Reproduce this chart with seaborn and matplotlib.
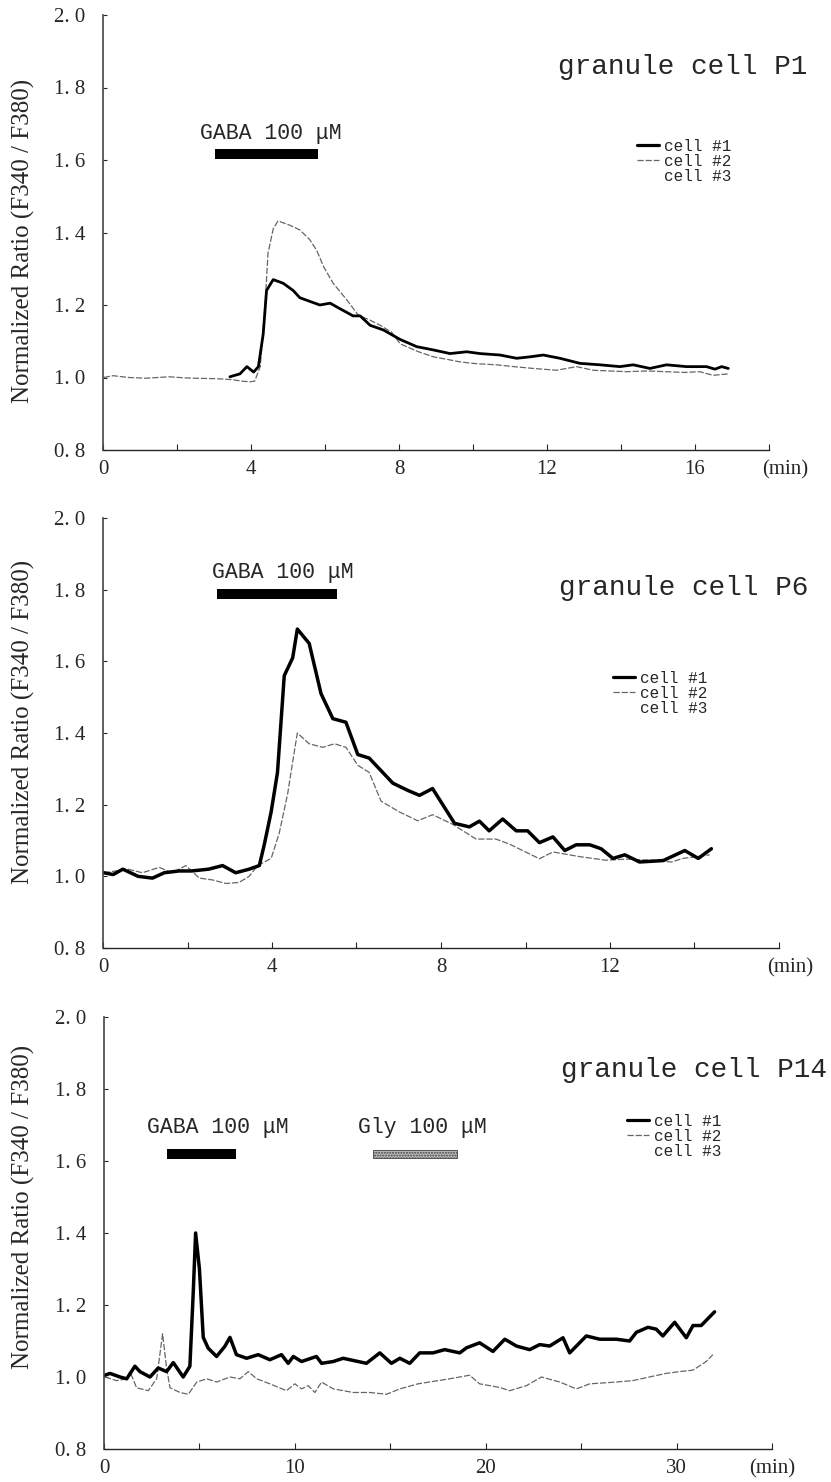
import matplotlib
matplotlib.use("Agg")
import matplotlib.pyplot as plt
from matplotlib.lines import Line2D
import seaborn as sns
import pandas as pd

sns.set_style("ticks")
plt.rcParams["font.family"] = ["Liberation Serif", "DejaVu Serif"]
MONO = ["Liberation Mono", "DejaVu Sans Mono"]

### Data (time in min, normalized F340/F380 ratio)
# granule cell P1
p1_c1_t = [3.43, 3.7, 3.89, 4.07, 4.2, 4.33, 4.42, 4.6, 4.87, 5.14, 5.32, 5.59, 5.86, 6.14, 6.4,
           6.76, 6.95, 7.22, 7.58, 8.03, 8.48, 8.93, 9.38, 9.83, 10.19, 10.73, 11.18, 11.54, 11.9,
           12.35, 12.89, 13.43, 13.97, 14.33, 14.78, 15.23, 15.77, 16.31, 16.54, 16.72, 16.9]
p1_c1_r = [1.002, 1.01, 1.03, 1.015, 1.03, 1.12, 1.24, 1.27, 1.26, 1.24, 1.22, 1.21, 1.2, 1.205,
           1.19, 1.17, 1.17, 1.144, 1.131, 1.105, 1.085, 1.076, 1.066, 1.071, 1.066, 1.062, 1.053,
           1.057, 1.062, 1.053, 1.039, 1.035, 1.03, 1.035, 1.025, 1.035, 1.03, 1.03, 1.023, 1.03, 1.025]
p1_c2_t = [0.02, 0.27, 0.7, 1.17, 1.79, 2.2, 2.5, 2.9, 3.2, 3.5, 3.75, 3.96, 4.1, 4.25, 4.38, 4.46,
           4.6, 4.73, 5.05, 5.32, 5.59, 5.78, 5.96, 6.22, 6.59, 6.9, 7.2, 7.49, 7.8, 8.03, 8.5, 8.93,
           9.3, 9.65, 10.1, 10.64, 11.1, 11.63, 12.26, 12.8, 13.25, 13.7, 14.15, 14.7, 15.23, 15.7,
           16.13, 16.49, 16.9]
p1_c2_r = [1.0, 1.005, 1.0, 0.998, 1.002, 0.999, 0.998, 0.997, 0.996, 0.994, 0.99, 0.988, 0.99,
           1.03, 1.2, 1.343, 1.41, 1.432, 1.42, 1.407, 1.38, 1.35, 1.306, 1.26, 1.214, 1.172, 1.159,
           1.144, 1.125, 1.093, 1.072, 1.057, 1.05, 1.043, 1.038, 1.035, 1.03, 1.025, 1.02, 1.03,
           1.02, 1.018, 1.016, 1.018, 1.016, 1.014, 1.016, 1.006, 1.01]

# granule cell P6
p2_c1_t = [0.02, 0.24, 0.47, 0.83, 1.17, 1.45, 1.8, 2.1, 2.5, 2.83, 3.14, 3.46, 3.7, 3.82, 3.98,
           4.13, 4.29, 4.49, 4.6, 4.88, 5.16, 5.44, 5.75, 6.03, 6.3, 6.86, 7.21, 7.49, 7.8, 8.32,
           8.67, 8.91, 9.14, 9.46, 9.78, 10.05, 10.33, 10.65, 10.93, 11.2, 11.52, 11.79, 12.07,
           12.35, 12.7, 13.26, 13.77, 14.09, 14.4]
p2_c1_r = [1.01, 1.005, 1.02, 1.0, 0.995, 1.01, 1.015, 1.015, 1.02, 1.03, 1.01, 1.02, 1.03, 1.09,
           1.18, 1.29, 1.56, 1.61, 1.69, 1.65, 1.51, 1.44, 1.43, 1.34, 1.33, 1.26, 1.24, 1.226,
           1.245, 1.148, 1.138, 1.154, 1.127, 1.16, 1.127, 1.127, 1.094, 1.11, 1.072, 1.088, 1.088,
           1.077, 1.05, 1.06, 1.04, 1.044, 1.072, 1.05, 1.077]
p2_c2_t = [0.02, 0.59, 0.93, 1.33, 1.64, 1.96, 2.28, 2.59, 2.91, 3.22, 3.46, 3.66, 3.98, 4.17,
           4.37, 4.49, 4.6, 4.88, 5.2, 5.48, 5.75, 6.03, 6.3, 6.58, 7.01, 7.45, 7.8, 8.28, 8.83,
           9.3, 9.62, 10.33, 10.65, 11.28, 11.9, 12.4, 13.0, 13.45, 13.73, 14.36]
p2_c2_r = [1.01, 1.02, 1.01, 1.025, 1.01, 1.03, 0.995, 0.99, 0.98, 0.983, 1.0, 1.03, 1.05, 1.12,
           1.23, 1.32, 1.40, 1.37, 1.36, 1.37, 1.36, 1.31, 1.29, 1.21, 1.18, 1.155, 1.172, 1.145,
           1.104, 1.104, 1.09, 1.049, 1.068, 1.055, 1.045, 1.048, 1.045, 1.04, 1.05, 1.06]

# granule cell P14
p3_c1_t = [0.05, 0.31, 0.84, 1.19, 1.62, 1.88, 2.41, 2.84, 3.28, 3.63, 4.15, 4.5, 4.68, 4.8, 5.0,
           5.2, 5.46, 5.9, 6.33, 6.6, 6.94, 7.47, 8.08, 8.69, 9.3, 9.65, 9.92, 10.35, 11.13, 11.4,
           12.01, 12.53, 13.75, 14.45, 15.06, 15.5, 16.02, 16.54, 17.24, 17.85, 18.64, 18.99,
           19.68, 20.38, 21.0, 21.61, 22.3, 22.83, 23.35, 24.05, 24.4, 25.27, 25.97, 26.84, 27.54,
           27.89, 28.5, 28.93, 29.28, 29.9, 30.51, 30.86, 31.29, 31.99]
p3_c1_r = [1.005, 1.01, 1.0, 0.995, 1.03, 1.015, 1.0, 1.025, 1.015, 1.04, 1.0, 1.03, 1.24, 1.40,
           1.30, 1.11, 1.08, 1.057, 1.085, 1.11, 1.062, 1.052, 1.062, 1.048, 1.062, 1.038, 1.057,
           1.043, 1.057, 1.038, 1.043, 1.052, 1.038, 1.067, 1.038, 1.052, 1.038, 1.067, 1.067,
           1.076, 1.067, 1.081, 1.095, 1.071, 1.105, 1.086, 1.076, 1.09, 1.086, 1.109, 1.067,
           1.114, 1.105, 1.105, 1.1, 1.124, 1.138, 1.133, 1.114, 1.152, 1.109, 1.143, 1.143, 1.181]
p3_c2_t = [0.05, 0.66, 1.19, 1.36, 1.71, 2.32, 2.76, 3.07, 3.28, 3.46, 3.98, 4.42, 4.86, 5.38,
           5.9, 6.6, 7.12, 7.56, 8.0, 8.69, 9.56, 10.0, 10.35, 10.7, 11.05, 11.4, 12.01, 13.06,
           13.93, 14.8, 15.5, 16.45, 18.11, 19.16, 19.68, 20.73, 21.26, 22.13, 22.92, 23.88,
           24.75, 25.45, 26.84, 27.71, 28.58, 29.45, 30.15, 30.86, 31.55, 31.9]
p3_c2_r = [1.0, 0.99, 0.995, 1.015, 0.97, 0.962, 0.995, 1.12, 1.024, 0.97, 0.957, 0.952, 0.986,
           0.995, 0.986, 1.0, 0.995, 1.015, 0.995, 0.981, 0.962, 0.981, 0.967, 0.976, 0.957,
           0.986, 0.967, 0.957, 0.957, 0.952, 0.967, 0.981, 0.995, 1.005, 0.981, 0.971, 0.962,
           0.976, 1.0, 0.986, 0.967, 0.981, 0.986, 0.99, 1.0, 1.01, 1.015, 1.019, 1.043, 1.062]

titles = ["granule cell P1", "granule cell P6", "granule cell P14"]
cell_labels = ["cell #1", "cell #2", "cell #3"]
y_ticks = [0.8, 1.0, 1.2, 1.4, 1.6, 1.8, 2.0]
y_tick_labels = ["0. 8", "1. 0", "1. 2", "1. 4", "1. 6", "1. 8", "2. 0"]
ylabel = "Normalized Ratio (F340 / F380)"

# drug applications: (label, start, end)
p1_drugs = [("GABA 100 μM", 3.03, 5.81)]
p2_drugs = [("GABA 100 μM", 2.69, 5.55)]
p3_drugs = [("GABA 100 μM", 3.3, 6.91), ("Gly 100 μM", 14.08, 18.48)]

W, H = 831, 1482
fig = plt.figure(figsize=(W / 100, H / 100), dpi=100)


def frac(x0, y_top, x1, y_bot):
    return [x0 / W, 1 - y_bot / H, (x1 - x0) / W, (y_bot - y_top) / H]


panels = [
    dict(rect=frac(103, 15, 769, 450), xmax=18, major=[0, 4, 8, 12, 16], minor=[2, 6, 10, 14, 18],
         c1=(p1_c1_t, p1_c1_r), c2=(p1_c2_t, p1_c2_r), drugs=p1_drugs, lw1=2.0,
         text_x=[2.62], text_y=1.674, bar_y=1.616, bar_h=0.027,
         title_xy=(807, 74), ylab_y=241, leg_xy=(637, 139), min_dx=16),
    dict(rect=frac(103, 518, 779, 948), xmax=16, major=[0, 4, 8, 12], minor=[2, 6, 10, 14, 16],
         c1=(p2_c1_t, p2_c1_r), c2=(p2_c2_t, p2_c2_r), drugs=p2_drugs, lw1=2.5,
         text_x=[2.58], text_y=1.849, bar_y=1.788, bar_h=0.029,
         title_xy=(808, 595), ylab_y=722, leg_xy=(613, 671), min_dx=11),
    dict(rect=frac(104, 1017, 772, 1449), xmax=35, major=[0, 10, 20, 30], minor=[5, 15, 25, 35],
         c1=(p3_c1_t, p3_c1_r), c2=(p3_c2_t, p3_c2_r), drugs=p3_drugs, lw1=2.5,
         text_x=[2.25, 13.3], text_y=1.692, bar_y=1.62, bar_h=0.027,
         title_xy=(827, 1077), ylab_y=1207, leg_xy=(627, 1114), min_dx=0),
]

for i, p in enumerate(panels):
    ax = fig.add_axes(p["rect"])
    d2 = pd.DataFrame({"time": p["c2"][0], "ratio": p["c2"][1]})
    d1 = pd.DataFrame({"time": p["c1"][0], "ratio": p["c1"][1]})
    sns.lineplot(data=d2, x="time", y="ratio", ax=ax, color="#666666", lw=0.9,
                 linestyle=(0, (5, 1.5)), errorbar=None, legend=False)
    sns.lineplot(data=d1, x="time", y="ratio", ax=ax, color="black", lw=p["lw1"],
                 errorbar=None, legend=False)

    # drug bars + labels
    for j, (lab, t0, t1) in enumerate(p["drugs"]):
        if lab.startswith("Gly"):
            ax.barh(p["bar_y"], t1 - t0, left=t0, height=p["bar_h"] * 0.8, color="#bdbdbd",
                    edgecolor="#444444", hatch="......", lw=0.6)
        else:
            ax.barh(p["bar_y"], t1 - t0, left=t0, height=p["bar_h"], color="black", lw=0)
        ax.text(p["text_x"][j], p["text_y"], lab, family=MONO, fontsize=15.5,
                ha="left", va="center")

    ax.set_xlim(0, p["xmax"])
    ax.set_ylim(0.8, 2.0)
    ax.set_xticks(p["major"])
    ax.set_xticklabels([str(v) for v in p["major"]])
    ax.set_xticks(p["minor"], minor=True)
    ax.set_yticks(y_ticks)
    ax.set_yticklabels(y_tick_labels)
    ax.tick_params(axis="x", which="both", direction="in", length=4, width=0.8,
                   labelsize=15, pad=7)
    ax.tick_params(axis="y", direction="in", length=3, width=0.8, labelsize=15, pad=13)
    ax.set_xlabel("")
    ax.set_ylabel("")
    sns.despine(ax=ax)
    ax.spines["left"].set_color("#444444")
    ax.spines["left"].set_linewidth(1.2)
    ax.spines["bottom"].set_linewidth(1.0)

    ax.annotate("(min)", xy=(1, 0), xycoords="axes fraction", xytext=(p["min_dx"], -20),
                textcoords="offset pixels", ha="center", va="center", fontsize=15)

    fig.text(p["title_xy"][0] / W, 1 - p["title_xy"][1] / H, titles[i], family=MONO,
             fontsize=20, ha="right", va="baseline")
    fig.text(23 / W, 1 - p["ylab_y"] / H, ylabel, rotation=90, fontsize=18,
             ha="center", va="center")

    handles = [Line2D([], [], color="black", lw=2.3),
               Line2D([], [], color="#666666", lw=0.9, ls=(0, (5, 1.5))),
               Line2D([], [], color="none")]
    ax.legend(handles, cell_labels, loc="upper left",
              bbox_to_anchor=(p["leg_xy"][0] / W, 1 - p["leg_xy"][1] / H),
              bbox_transform=fig.transFigure, frameon=False,
              prop={"family": MONO, "size": 11.5}, handlelength=1.4, handletextpad=0.3,
              labelspacing=0, borderpad=0, borderaxespad=0)

fig.savefig("out.png", dpi=100)
